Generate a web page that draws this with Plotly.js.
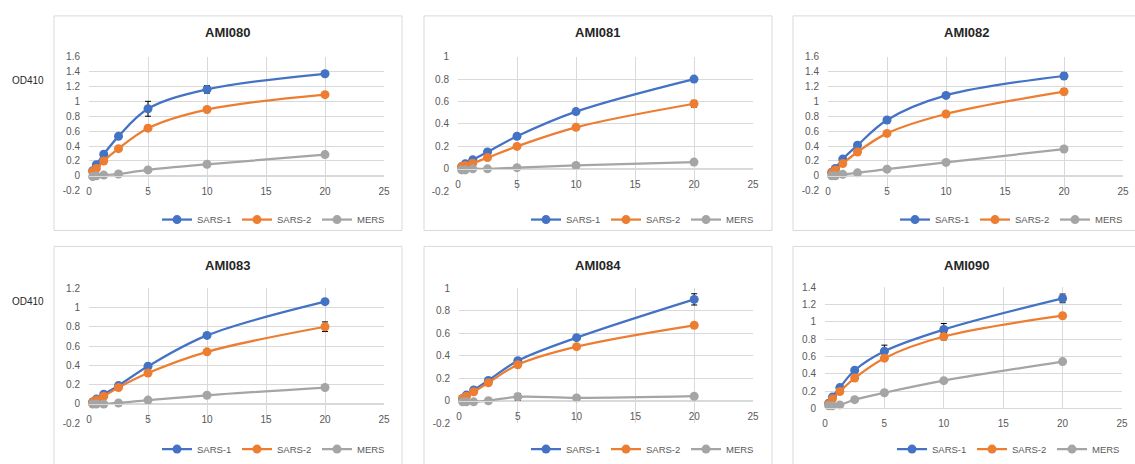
<!DOCTYPE html>
<html>
<head>
<meta charset="utf-8">
<script src="https://cdn.plot.ly/plotly-3.0.1.min.js"></script>
<style>
html,body{margin:0;padding:0;background:#fff;width:1135px;height:464px;overflow:hidden;}
#chart{width:1135px;height:464px;overflow:hidden;position:relative;}
</style>
</head>
<body>
<div id="chart"></div>
<script>
// ---------- data ----------
const conc = [0.3125, 0.625, 1.25, 2.5, 5, 10, 20];
const seriesNames = ['SARS-1', 'SARS-2', 'MERS'];
const panelTitles = ['AMI080', 'AMI081', 'AMI082', 'AMI083', 'AMI084', 'AMI090'];
const yAxisLabel = 'OD410';

const ami080_sars1 = [0.07, 0.15, 0.29, 0.53, 0.90, 1.16, 1.37];
const ami080_sars2 = [0.06, 0.10, 0.20, 0.365, 0.64, 0.89, 1.09];
const ami080_mers  = [-0.01, 0.00, 0.01, 0.025, 0.08, 0.155, 0.285];
const ami080_sars1_err = [0, 0, 0, 0, 0.10, 0.05, 0.02];
const ami080_sars2_err = [0, 0, 0, 0, 0, 0.02, 0.02];
const ami080_mers_err  = [0, 0, 0, 0, 0, 0, 0];

const ami081_sars1 = [0.02, 0.045, 0.08, 0.15, 0.29, 0.51, 0.80];
const ami081_sars2 = [0.02, 0.03, 0.05, 0.10, 0.20, 0.37, 0.58];
const ami081_mers  = [-0.01, -0.01, 0.00, 0.00, 0.01, 0.03, 0.06];
const ami081_sars1_err = [0, 0, 0, 0, 0, 0, 0.01];
const ami081_sars2_err = [0, 0, 0, 0, 0, 0, 0.03];
const ami081_mers_err  = [0, 0, 0, 0, 0, 0, 0];

const ami082_sars1 = [0.05, 0.10, 0.225, 0.41, 0.75, 1.08, 1.34];
const ami082_sars2 = [0.04, 0.08, 0.165, 0.32, 0.57, 0.83, 1.13];
const ami082_mers  = [0.00, 0.00, 0.02, 0.04, 0.09, 0.18, 0.36];
const ami082_sars1_err = [0, 0, 0, 0, 0, 0, 0.04];
const ami082_sars2_err = [0, 0, 0, 0, 0, 0, 0.04];
const ami082_mers_err  = [0, 0, 0, 0, 0, 0, 0];

const ami083_sars1 = [0.02, 0.05, 0.10, 0.19, 0.39, 0.71, 1.06];
const ami083_sars2 = [0.02, 0.04, 0.08, 0.17, 0.32, 0.54, 0.80];
const ami083_mers  = [0.00, 0.00, 0.00, 0.01, 0.04, 0.09, 0.17];
const ami083_sars1_err = [0, 0, 0, 0, 0, 0, 0.01];
const ami083_sars2_err = [0, 0, 0, 0, 0, 0, 0.05];
const ami083_mers_err  = [0, 0, 0, 0, 0, 0, 0];

const ami084_sars1 = [0.02, 0.05, 0.095, 0.18, 0.355, 0.56, 0.90];
const ami084_sars2 = [0.02, 0.04, 0.08, 0.16, 0.32, 0.48, 0.67];
const ami084_mers  = [-0.01, -0.01, -0.01, 0.00, 0.035, 0.025, 0.04];
const ami084_sars1_err = [0, 0, 0, 0, 0, 0, 0.05];
const ami084_sars2_err = [0, 0, 0, 0, 0, 0, 0];
const ami084_mers_err  = [0, 0, 0, 0, 0.03, 0, 0];

const ami090_sars1 = [0.06, 0.13, 0.24, 0.44, 0.66, 0.91, 1.27];
const ami090_sars2 = [0.05, 0.11, 0.195, 0.35, 0.58, 0.83, 1.07];
const ami090_mers  = [0.03, 0.03, 0.04, 0.10, 0.18, 0.32, 0.54];
const ami090_sars1_err = [0, 0, 0, 0, 0.07, 0.07, 0.05];
const ami090_sars2_err = [0, 0, 0, 0, 0, 0.04, 0];
const ami090_mers_err  = [0, 0, 0, 0, 0, 0, 0];

const xTickVals = [0, 5, 10, 15, 20, 25];
const yTicks16 = [-0.2, 0, 0.2, 0.4, 0.6, 0.8, 1, 1.2, 1.4, 1.6];
const yTicks10 = [-0.2, 0, 0.2, 0.4, 0.6, 0.8, 1];
const yTicks12 = [-0.2, 0, 0.2, 0.4, 0.6, 0.8, 1, 1.2];
const yTicks14 = [0, 0.2, 0.4, 0.6, 0.8, 1, 1.2, 1.4];

const panelSeries = [
  [[ami080_sars1, ami080_sars1_err], [ami080_sars2, ami080_sars2_err], [ami080_mers, ami080_mers_err]],
  [[ami081_sars1, ami081_sars1_err], [ami081_sars2, ami081_sars2_err], [ami081_mers, ami081_mers_err]],
  [[ami082_sars1, ami082_sars1_err], [ami082_sars2, ami082_sars2_err], [ami082_mers, ami082_mers_err]],
  [[ami083_sars1, ami083_sars1_err], [ami083_sars2, ami083_sars2_err], [ami083_mers, ami083_mers_err]],
  [[ami084_sars1, ami084_sars1_err], [ami084_sars2, ami084_sars2_err], [ami084_mers, ami084_mers_err]],
  [[ami090_sars1, ami090_sars1_err], [ami090_sars2, ami090_sars2_err], [ami090_mers, ami090_mers_err]]
];
const panelYTicks = [yTicks16, yTicks10, yTicks16, yTicks12, yTicks10, yTicks14];

// ---------- layout geometry (pixels) ----------
const W = 1135, H = 464;
const colors = ['#4472C4', '#ED7D31', '#A5A5A5'];
const FONT = '"Liberation Sans", Arial, sans-serif';
const geom = [
  {l: 89,  r: 384,  t: 57,  b: 192,   box: [54, 402, 16, 232],   ty: 33,  legY: 221, legX: 157},
  {l: 458, r: 753,  t: 57,  b: 192.5, box: [424, 772, 16, 232],  ty: 33,  legY: 221, legX: 526},
  {l: 828, r: 1123, t: 57,  b: 192,   box: [793, 1150, 16, 232], ty: 33,  legY: 221, legX: 895},
  {l: 89,  r: 384,  t: 290, b: 426,   box: [54, 402, 248, 480],  ty: 267, legY: 452, legX: 157},
  {l: 459, r: 753,  t: 290, b: 426,   box: [424, 772, 248, 480], ty: 267, legY: 452, legX: 526},
  {l: 825, r: 1122, t: 289, b: 411,   box: [793, 1150, 248, 480], ty: 267, legY: 452, legX: 892}
];
const titleX = [228, 598, 967, 228, 598, 967];

const px = v => v / W;
const py = v => 1 - v / H;

const traces = [];
const layout = {
  width: W, height: H, autosize: false,
  margin: {l: 0, r: 0, t: 0, b: 0, pad: 0},
  paper_bgcolor: '#fff', plot_bgcolor: 'rgba(0,0,0,0)',
  font: {family: FONT, color: '#595959', size: 10},
  shapes: [], annotations: []
};

panelTitles.forEach((title, i) => {
  const g = geom[i];
  const sfx = i === 0 ? '' : String(i + 1);
  const xa = 'x' + sfx, ya = 'y' + sfx;
  const legId = 'legend' + sfx;
  const ticks = panelYTicks[i];
  const ymin = ticks[0], ymax = ticks[ticks.length - 1];
  const zeroPx = g.b - (0 - ymin) / (ymax - ymin) * (g.b - g.t);

  seriesNames.forEach((name, k) => {
    const [vals, errs] = panelSeries[i][k];
    traces.push({
      type: 'scatter', mode: 'lines+markers', name: name,
      x: conc, y: vals,
      xaxis: xa, yaxis: ya, legend: legId,
      line: {color: colors[k], width: 2.25, shape: 'spline', smoothing: 1},
      marker: {color: colors[k], size: 9},
      error_y: {type: 'data', array: errs, visible: true, color: '#000', thickness: 1, width: 3},
      cliponaxis: false
    });
  });

  layout['xaxis' + sfx] = {
    domain: [px(g.l), px(g.r)], range: [0, 25],
    anchor: 'free', position: py(zeroPx),
    tickvals: xTickVals, ticktext: xTickVals.map(String),
    showgrid: true, gridcolor: '#D9D9D9', gridwidth: 1,
    zeroline: false, showline: true, linecolor: '#D9D9D9', linewidth: 1,
    ticks: 'outside', ticklen: 6, tickcolor: 'rgba(0,0,0,0)',
    tickfont: {family: FONT, size: 10, color: '#595959'},
    automargin: false, fixedrange: true
  };
  layout['yaxis' + sfx] = {
    domain: [py(g.b), py(g.t)], range: [ymin, ymax],
    anchor: xa,
    tickvals: ticks, ticktext: ticks.map(v => String(v)),
    showgrid: true, gridcolor: '#D9D9D9', gridwidth: 1,
    zeroline: false, showline: false,
    ticks: 'outside', ticklen: 6, tickcolor: 'rgba(0,0,0,0)',
    tickfont: {family: FONT, size: 10, color: '#595959'},
    automargin: false, fixedrange: true
  };
  layout[legId] = {
    orientation: 'h', x: px(g.legX), y: py(g.legY), xanchor: 'left', yanchor: 'middle',
    bgcolor: 'rgba(0,0,0,0)', borderwidth: 0,
    font: {family: FONT, size: 9.5, color: '#595959'},
    entrywidth: 35, entrywidthmode: 'pixels', itemclick: false, itemdoubleclick: false,
    tracegroupgap: 0
  };
  layout.shapes.push({
    type: 'rect', xref: 'paper', yref: 'paper',
    x0: px(g.box[0]), x1: px(g.box[1]), y0: py(g.box[3]), y1: py(g.box[2]),
    line: {color: '#D9D9D9', width: 1}, fillcolor: 'rgba(0,0,0,0)', layer: 'below'
  });
  layout.annotations.push({
    text: '<b>' + title + '</b>', xref: 'paper', yref: 'paper',
    x: px(titleX[i]), y: py(g.ty),
    xanchor: 'center', yanchor: 'middle', showarrow: false,
    font: {family: FONT, size: 13, color: '#262626'}
  });
});

[81, 303].forEach(yy => {
  layout.annotations.push({
    text: yAxisLabel, xref: 'paper', yref: 'paper', x: px(10), y: py(yy),
    xanchor: 'left', yanchor: 'middle', showarrow: false,
    font: {family: FONT, size: 10, color: '#262626'}
  });
});

Plotly.newPlot('chart', traces, layout, {staticPlot: true, displayModeBar: false, responsive: false});
</script>
</body>
</html>
